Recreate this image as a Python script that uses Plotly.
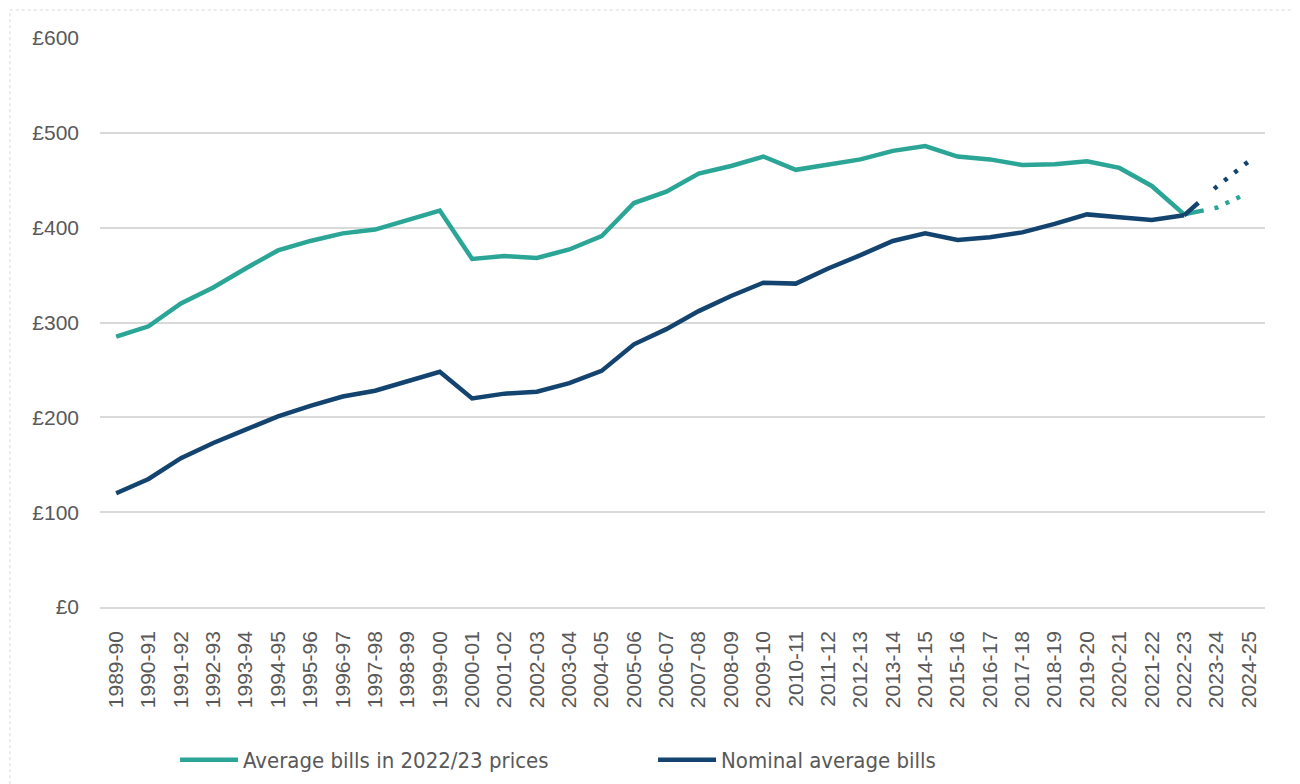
"""
Average water bills, real vs nominal, 1989-90 to 2024-25
"""
import plotly.graph_objects as go

# categories (financial years)
years = [
    "1989-90", "1990-91", "1991-92", "1992-93", "1993-94", "1994-95",
    "1995-96", "1996-97", "1997-98", "1998-99", "1999-00", "2000-01",
    "2001-02", "2002-03", "2003-04", "2004-05", "2005-06", "2006-07",
    "2007-08", "2008-09", "2009-10", "2010-11", "2011-12", "2012-13",
    "2013-14", "2014-15", "2015-16", "2016-17", "2017-18", "2018-19",
    "2019-20", "2020-21", "2021-22", "2022-23", "2023-24", "2024-25",
]

# average bills in 2022/23 prices (last two are projections)
real_bills = [
    285, 296, 320, 337, 357, 376, 386, 394, 398, 408, 418, 367,
    370, 368, 377, 391, 426, 438, 457, 465, 475, 461, 466, 472,
    481, 486, 475, 472, 466, 467, 470, 463, 444, 414, 421, 437,
]

# nominal average bills (last two are projections)
nominal_bills = [
    120, 135, 157, 173, 187, 201, 212, 222, 228, 238, 248, 220,
    225, 227, 236, 249, 277, 293, 312, 328, 342, 341, 357, 371,
    386, 394, 387, 390, 395, 404, 414, 411, 408, 413, 443, 470,
]

y_ticks = [0, 100, 200, 300, 400, 500, 600]
y_tick_labels = ["£0", "£100", "£200", "£300", "£400", "£500", "£600"]

last_actual = years.index("2022-23")

TEAL = "#2AA596"
NAVY = "#13446F"
GREY_TEXT = "#595959"
GRID = "#D9D9D9"


def split_series(values, cut):
    """Return (actual, projected) copies with None outside each part."""
    actual = [v if i <= cut else None for i, v in enumerate(values)]
    projected = [v if i >= cut else None for i, v in enumerate(values)]
    return actual, projected


real_actual, real_proj = split_series(real_bills, last_actual)
nom_actual, nom_proj = split_series(nominal_bills, last_actual)

fig = go.Figure()

# solid lines
fig.add_trace(go.Scatter(
    x=years, y=real_actual, mode="lines", name="Average bills in 2022/23 prices",
    line=dict(color=TEAL, width=4.5), connectgaps=False,
))
fig.add_trace(go.Scatter(
    x=years, y=nom_actual, mode="lines", name="Nominal average bills",
    line=dict(color=NAVY, width=4.5), connectgaps=False,
))

# projected (dotted) parts
fig.add_trace(go.Scatter(
    x=years, y=real_proj, mode="lines", showlegend=False,
    line=dict(color=TEAL, width=4.5,
              dash="20px,11px,4px,8px,4px,8px,4px,60px"),
))
fig.add_trace(go.Scatter(
    x=years, y=nom_proj, mode="lines", showlegend=False,
    line=dict(color=NAVY, width=4.5,
              dash="19px,21px,4px,9px,4px,9px,4px,9px,4px,60px"),
))

# dotted outer frame
fig.add_shape(
    type="rect", xref="paper", yref="paper",
    x0=-0.0773, x1=1.0240, y0=-0.33, y1=1.0492,
    line=dict(color=GRID, width=1, dash="dot"), layer="below",
)

# the page body adds an 8px margin, so the figure is 8px smaller on each side
fig.update_layout(
    width=1292, height=776,
    margin=dict(l=92, r=35, t=30, b=177),
    paper_bgcolor="white", plot_bgcolor="white",
    font=dict(family="Liberation Sans, Arial, sans-serif", color=GREY_TEXT),
    showlegend=True,
    legend=dict(
        orientation="h", xref="container", yref="container",
        x=0.1293, y=0.031, xanchor="left", yanchor="middle",
        font=dict(family="Liberation Sans Narrow, DejaVu Sans Condensed, sans-serif",
                  size=22, color=GREY_TEXT),
        itemwidth=58, entrywidth=405, entrywidthmode="pixels",
        bgcolor="rgba(0,0,0,0)",
    ),
)

fig.update_xaxes(
    type="category", categoryorder="array", categoryarray=years,
    range=[-0.5, len(years) - 0.5],
    tickangle=-90, tickfont=dict(size=21, color=GREY_TEXT),
    showgrid=False, showline=True, linecolor=GRID, linewidth=1.5,
    ticks="", ticklabelstandoff=14, fixedrange=True,
)

fig.update_yaxes(
    range=[0, 600], tickvals=y_ticks, ticktext=y_tick_labels,
    tickfont=dict(size=21, color=GREY_TEXT),
    showgrid=True, gridcolor=GRID, gridwidth=1.5,
    zeroline=False, showline=False, ticks="", ticklabelstandoff=20,
)

fig.write_html("out.html")
